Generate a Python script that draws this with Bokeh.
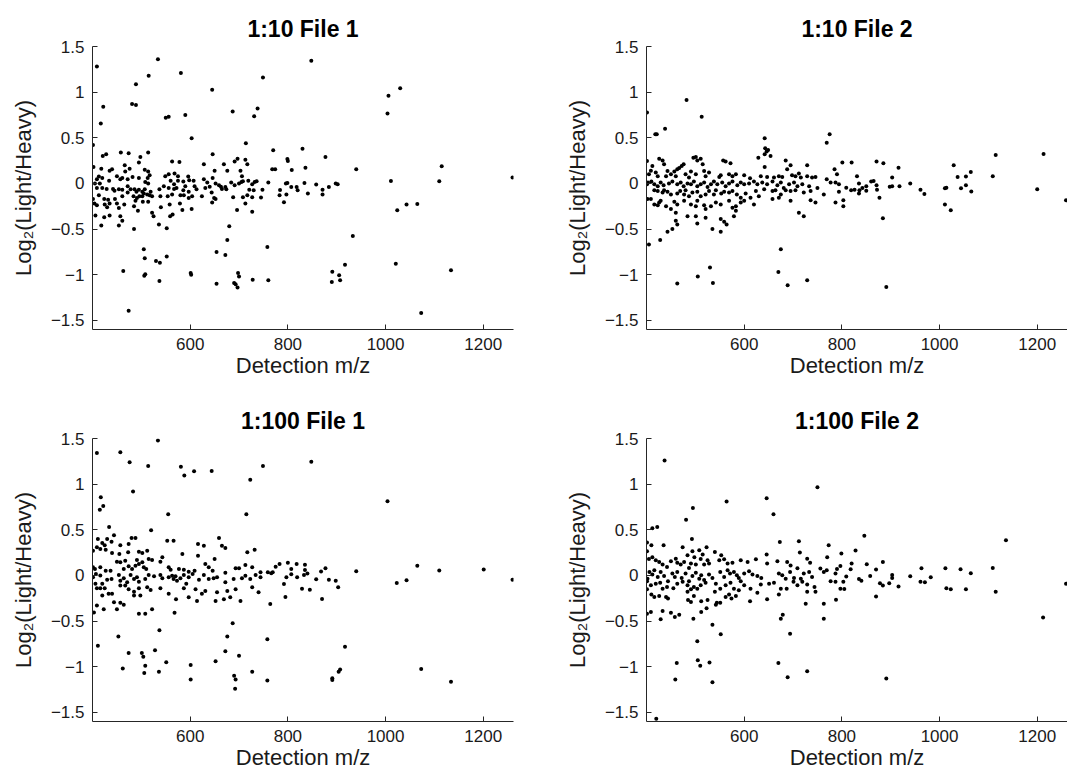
from bokeh.plotting import figure
from bokeh.layouts import column, row
from bokeh.models import Range1d, FixedTicker
from bokeh.embed import file_html
from bokeh.resources import INLINE

TITLES = ["1:10 File 1", "1:10 File 2", "1:100 File 1", "1:100 File 2"]
X_LABEL = "Detection m/z"
Y_LABEL = "Log\u2082(Light/Heavy)"
X_TICKS = [600, 800, 1000, 1200]
Y_TICKS = [-1.5, -1, -0.5, 0, 0.5, 1, 1.5]
Y_TICK_LABELS = ["\u22121.5", "\u22121", "\u22120.5", "0", "0.5", "1", "1.5"]
X_RANGE = (400, 1262)
Y_RANGE = (-1.6, 1.5)

# ---------------- 1:10 File 1 ----------------
P1 = [
(421,0.30),(428,0.32),(458,0.34),(474,0.33),(514,0.34),(498,0.29),(563,0.24),(646,0.32),(691,0.24),(697,0.27),
(713,0.26),(402,0.18),(418,0.16),(435,0.14),(440,0.155),(466,0.20),(476,0.16),(467,0.13),(495,0.23),(507,0.15),
(514,0.13),(556,0.10),(568,0.11),(575,0.08),(578,0.235),(628,0.21),(650,0.14),(669,0.21),(676,0.14),(703,0.14),
(717,0.21),(706,0.08),(409,0.045),(413,0.075),(420,0.06),(415,0.00),(434,0.03),(450,0.08),(457,0.045),(461,0.06),
(472,0.045),(482,0.07),(495,0.06),(513,0.06),(517,0.09),(549,0.08),(560,0.03),(567,-0.01),(575,0.03),(586,0.02),
(596,0.075),(598,0.035),(607,0.03),(609,-0.03),(628,0.045),(635,0.01),(646,0.06),(652,0.00),(659,-0.02),(663,-0.035),
(672,-0.04),(684,0.01),(691,-0.02),(700,0.00),(705,0.016),(708,0.024),(719,0.03),(727,-0.01),(732,0.016),(736,0.024),
(405,0.00),(409,-0.05),(420,-0.05),(429,-0.06),(442,-0.06),(445,-0.08),(454,-0.065),(461,-0.07),(472,-0.03),(478,-0.065),
(486,-0.065),(490,-0.09),(495,-0.07),(502,-0.09),(507,-0.065),(508,0.016),(514,0.00),(519,-0.09),(537,-0.065),(546,-0.03),
(556,-0.05),(567,-0.06),(572,-0.05),(586,-0.075),(590,-0.03),(597,-0.09),(613,-0.065),(631,-0.05),(640,-0.035),(644,-0.10),
(665,-0.06),(674,-0.065),(721,-0.07),(730,-0.075),(401,-0.17),(404,-0.22),(413,-0.13),(424,-0.17),(432,-0.18),(446,-0.17),
(461,-0.14),(472,-0.10),(484,-0.14),(488,-0.19),(491,-0.16),(496,-0.14),(502,-0.14),(505,-0.11),(512,-0.12),(517,-0.13),
(522,-0.14),(539,-0.14),(554,-0.14),(563,-0.12),(580,-0.13),(587,-0.13),(597,-0.16),(604,-0.14),(624,-0.14),(649,-0.16),
(688,-0.15),(708,-0.15),(717,-0.13),(727,-0.15),(409,-0.24),(425,-0.23),(430,-0.26),(435,-0.22),(450,-0.22),(454,-0.27),
(465,-0.23),(485,-0.25),(493,-0.30),(503,-0.20),(514,-0.20),(540,-0.26),(558,-0.23),(579,-0.22),(603,-0.28),(645,-0.21),
(652,-0.17),(696,-0.29),(713,-0.22),(727,-0.31),(406,-0.35),(424,-0.37),(435,-0.35),(457,-0.36),(461,-0.41),(454,-0.46),
(418,-0.46),(485,-0.50),(522,-0.32),(525,-0.36),(536,-0.45),(552,-0.49),(559,-0.36),(564,-0.34),(584,-0.29),(680,-0.47),
(676,-0.62),(401,0.42),(409,1.28),(417,0.656),(422,0.84),(489,1.087),(481,0.871),(489,0.86),(515,1.18),(534,1.36),
(581,1.21),(550,0.72),(556,0.73),(590,0.75),(603,0.495),(645,1.025),(687,0.787),(731,0.736),(738,0.82),(749,1.16),
(714,0.44),(463,-0.96),(474,-1.394),(505,-0.72),(507,-0.82),(506,-1.01),(508,-0.996),(530,-0.85),(538,-0.87),(537,-1.07),
(552,-0.80),(601,-0.98),(602,-1.00),(654,-1.10),(654,-0.75),(672,-0.785),(690,-1.09),(693,-1.105),(698,-0.98),(700,-1.02),
(697,-1.14),(728,-1.055),(848,1.343),(1006,0.96),(1030,1.043),(1004,0.765),(830,0.38),(770,0.363),(877,0.29),(799,0.268),
(800,0.246),(768,0.155),(774,0.155),(808,0.148),(836,0.173),(940,0.155),(1115,0.188),(1260,0.064),(1011,0.027),(1110,0.023),
(760,0.009),(796,0.0),(799,0.005),(834,0.005),(858,-0.013),(898,0.0),(902,-0.01),(884,-0.04),(807,-0.04),(818,-0.04),
(820,-0.075),(745,-0.155),(748,-0.07),(784,-0.072),(783,-0.13),(797,-0.12),(792,-0.207),(841,-0.11),(871,-0.07),(871,-0.12),
(1024,-0.295),(1043,-0.232),(1065,-0.225),(933,-0.576),(758,-0.697),(1021,-0.88),(1134,-0.95),(917,-0.89),(891,-0.967),
(905,-1.007),(890,-1.08),(907,-1.06),(760,-1.06),(1073,-1.42),
]

# ---------------- 1:10 File 2 ----------------
P2 = [
(401,0.246),(426,0.27),(433,0.25),(436,0.21),(412,0.19),(409,0.14),(467,0.17),(472,0.19),(476,0.21),(496,0.28),
(501,0.29),(504,0.25),(511,0.27),(515,0.21),(557,0.25),(562,0.24),(572,0.22),(629,0.28),(642,0.32),(646,0.35),
(654,0.30),(642,0.18),(685,0.25),(695,0.20),(729,0.20),(688,0.155),(785,0.155),(801,0.23),(405,0.10),(419,0.12),
(423,0.08),(440,0.08),(443,0.137),(450,0.10),(457,0.13),(460,0.08),(463,0.155),(480,0.10),(487,0.064),(491,0.13),
(501,0.10),(518,0.137),(521,0.08),(528,0.12),(549,0.07),(552,0.09),(569,0.10),(576,0.08),(583,0.10),(600,0.09),
(612,0.056),(634,0.08),(647,0.07),(661,0.064),(671,0.08),(678,0.07),(698,0.09),(705,0.08),(712,0.11),(716,0.064),
(729,0.08),(739,0.064),(746,0.07),(769,0.045),(787,0.01),(790,0.10),(401,-0.01),(403,0.01),(410,0.02),(416,-0.01),
(423,-0.03),(429,0.01),(435,-0.02),(446,0.00),(453,0.02),(463,-0.01),(470,0.01),(476,-0.03),(484,0.00),(491,-0.01),
(497,0.02),(504,-0.03),(511,-0.01),(518,0.01),(525,-0.04),(532,-0.01),(538,0.02),(545,-0.01),(555,0.01),(562,-0.03),
(569,0.00),(576,0.02),(586,-0.02),(593,0.01),(600,-0.01),(610,0.00),(620,0.02),(627,-0.01),(637,0.01),(647,-0.01),
(658,0.02),(668,-0.02),(675,0.01),(681,-0.05),(692,-0.01),(702,0.01),(709,-0.03),(719,-0.01),(733,-0.03),(750,-0.05),
(777,0.01),(794,-0.01),(402,-0.17),(409,-0.17),(416,-0.075),(423,-0.083),(433,-0.10),(436,-0.075),(443,-0.09),(450,-0.12),
(463,-0.11),(469,-0.083),(477,-0.12),(480,-0.075),(487,-0.14),(494,-0.10),(504,-0.09),(511,-0.14),(521,-0.12),(528,-0.083),
(538,-0.12),(542,-0.075),(553,-0.11),(559,-0.09),(569,-0.10),(576,-0.083),(585,-0.12),(593,-0.156),(603,-0.11),(613,-0.156),
(624,-0.083),(641,-0.064),(658,-0.083),(664,-0.075),(675,-0.12),(685,-0.075),(695,-0.083),(705,-0.075),(722,-0.10),(736,-0.083),
(763,-0.12),(794,-0.09),(803,-0.185),(416,-0.23),(426,-0.21),(429,-0.19),(423,-0.24),(440,-0.25),(457,-0.20),(450,-0.28),
(463,-0.23),(460,-0.32),(477,-0.19),(491,-0.23),(501,-0.25),(504,-0.19),(518,-0.24),(521,-0.28),(532,-0.25),(542,-0.21),
(552,-0.23),(569,-0.19),(576,-0.265),(583,-0.25),(593,-0.21),(600,-0.19),(620,-0.23),(630,-0.14),(658,-0.17),(671,-0.156),
(695,-0.19),(712,-0.32),(722,-0.36),(736,-0.185),(746,-0.21),(787,-0.21),(803,-0.25),(460,-0.41),(463,-0.45),(453,-0.50),
(443,-0.53),(484,-0.36),(504,-0.44),(501,-0.36),(521,-0.375),(535,-0.50),(552,-0.39),(559,-0.42),(564,-0.45),(552,-0.53),
(579,-0.36),(583,-0.30),(428,-0.62),(405,-0.67),(675,-0.72),(401,0.776),(482,0.915),(513,0.73),(418,0.54),(421,0.54),
(438,0.60),(463,-1.095),(505,-1.02),(530,-0.92),(536,-1.09),(642,0.495),(643,0.385),(649,0.367),(670,-0.97),(689,-1.115),
(769,0.447),(775,0.539),(729,-1.06),(891,-1.135),(884,-0.38),(820,0.228),(871,0.24),(885,0.22),(916,0.173),(831,0.08),
(903,0.064),(865,0.027),(860,0.02),(871,-0.02),(850,-0.03),(809,-0.046),(819,-0.075),(826,-0.07),(836,-0.075),(842,-0.05),
(835,-0.11),(835,0.0),(850,-0.08),(872,-0.07),(877,-0.156),(898,-0.035),(903,-0.03),(918,-0.03),(940,0.0),(961,-0.07),
(969,-0.115),(1011,-0.053),(1014,-0.046),(1011,-0.23),(1023,-0.295),(1029,0.20),(1037,0.07),(1044,-0.053),(1054,0.075),
(1054,-0.02),(1064,0.126),(1065,-0.087),(1109,0.08),(1115,0.312),(1200,-0.064),(1213,0.323),(1259,-0.185),
]

# ---------------- 1:100 File 1 ----------------
P3 = [
(411,0.40),(430,0.40),(439,0.37),(420,0.355),(425,0.33),(457,0.33),(474,0.345),(480,0.41),(488,0.41),(553,0.38),
(566,0.38),(616,0.345),(628,0.326),(659,0.41),(665,0.326),(672,0.30),(401,0.27),(409,0.31),(416,0.29),(427,0.28),
(440,0.245),(455,0.235),(473,0.253),(495,0.26),(502,0.245),(512,0.27),(515,0.18),(522,0.17),(543,0.20),(539,0.15),
(584,0.235),(616,0.217),(650,0.18),(717,0.253),(732,0.28),(401,0.09),(405,0.07),(450,0.15),(457,0.144),(467,0.16),
(491,0.17),(495,0.125),(488,0.107),(502,0.144),(505,0.09),(510,0.07),(474,0.10),(481,0.07),(464,0.07),(427,0.05),
(437,0.05),(416,0.09),(556,0.09),(560,0.063),(577,0.07),(587,0.063),(597,0.04),(609,0.05),(631,0.125),(638,0.09),
(646,0.05),(672,0.03),(693,0.078),(700,0.08),(713,0.115),(727,0.09),(744,0.034),(401,-0.02),(407,0.015),(416,0.00),
(406,-0.09),(420,-0.09),(430,-0.046),(439,-0.04),(454,0.005),(457,-0.057),(464,-0.03),(471,-0.076),(478,0.005),(485,-0.04),
(491,-0.02),(495,-0.07),(508,-0.04),(515,0.005),(526,-0.01),(539,0.005),(543,-0.03),(556,-0.02),(563,-0.003),(566,-0.04),
(570,-0.01),(573,-0.057),(580,-0.03),(587,0.005),(597,-0.02),(605,0.015),(618,-0.046),(628,0.005),(638,-0.04),(648,-0.03),
(655,-0.02),(672,-0.076),(689,-0.04),(706,-0.03),(713,-0.003),(723,-0.04),(734,0.005),(744,-0.02),(409,-0.14),(416,-0.14),
(425,-0.14),(433,-0.20),(440,-0.20),(420,-0.22),(457,-0.11),(467,-0.11),(474,-0.15),(485,-0.18),(485,-0.22),(498,-0.22),
(495,-0.14),(512,-0.13),(519,-0.16),(539,-0.14),(556,-0.20),(571,-0.26),(587,-0.14),(592,-0.09),(597,-0.24),(611,-0.15),
(624,-0.20),(631,-0.17),(655,-0.185),(669,-0.26),(676,-0.17),(682,-0.24),(693,-0.15),(703,-0.28),(727,-0.13),(740,-0.185),
(409,-0.33),(423,-0.37),(444,-0.295),(450,-0.37),(457,-0.30),(464,-0.32),(403,-0.405),(495,-0.42),(508,-0.42),(522,-0.37),
(568,-0.41),(614,-0.28),(652,-0.28),(687,-0.525),(537,-0.60),(409,1.34),(457,1.35),(476,1.24),(534,1.478),(514,1.20),
(581,1.19),(588,1.095),(608,1.14),(644,1.145),(723,1.047),(749,1.20),(483,0.92),(417,0.857),(422,0.76),(415,0.72),
(555,0.67),(715,0.67),(434,0.53),(520,0.495),(444,0.44),(411,-0.77),(453,-0.67),(474,-0.85),(462,-1.02),(501,-0.85),
(504,-0.89),(508,-0.99),(506,-1.07),(528,-0.82),(536,-1.055),(551,-0.95),(601,-0.98),(601,-1.14),(652,-0.94),(672,-0.83),
(676,-0.67),(690,-1.10),(693,-1.14),(692,-1.24),(700,-0.88),(727,-1.055),(758,-0.70),(758,-1.15),(848,1.244),(1004,0.813),
(759,0.034),(766,0.023),(769,0.034),(775,0.096),(783,0.126),(800,0.14),(807,0.07),(818,0.126),(819,-0.02),(835,0.118),
(835,0.06),(833,0.005),(840,0.02),(807,0.013),(797,-0.02),(792,-0.094),(795,-0.236),(764,-0.313),(829,-0.145),(845,-0.156),
(858,-0.042),(868,0.042),(877,0.078),(870,-0.258),(884,-0.046),(898,-0.057),(903,-0.13),(940,0.045),(1023,-0.083),
(1043,-0.053),(1065,0.107),(1110,0.053),(1201,0.064),(1260,-0.046),(917,-0.78),(891,-1.125),(891,-1.146),(904,-1.055),
(907,-1.03),(1073,-1.025),(1134,-1.165),
]

# ---------------- 1:100 File 2 ----------------
P4 = [
(401,0.36),(410,0.33),(435,0.33),(474,0.31),(493,0.40),(523,0.31),(673,0.367),(712,0.374),(773,0.33),(401,0.264),
(540,0.257),(553,0.22),(494,0.264),(508,0.275),(484,0.22),(498,0.20),(515,0.23),(714,0.25),(770,0.20),(799,0.24),
(646,0.23),(412,0.20),(405,0.18),(419,0.166),(426,0.148),(433,0.12),(442,0.093),(450,0.155),(460,0.184),(463,0.14),
(470,0.12),(477,0.148),(487,0.082),(491,0.13),(501,0.12),(511,0.18),(518,0.12),(525,0.166),(528,0.13),(549,0.166),
(559,0.177),(566,0.13),(576,0.14),(593,0.166),(607,0.148),(624,0.177),(647,0.13),(668,0.155),(688,0.148),(695,0.11),
(709,0.08),(729,0.184),(735,0.14),(756,0.075),(769,0.056),(790,0.07),(797,0.104),(402,-0.035),(406,0.038),(412,0.01),
(416,0.056),(423,-0.016),(429,0.038),(436,-0.005),(444,-0.064),(453,0.02),(458,-0.016),(463,0.038),(472,-0.028),(480,0.02),
(487,-0.064),(494,-0.005),(501,0.03),(508,-0.035),(512,0.002),(518,-0.05),(528,0.01),(535,-0.028),(551,0.038),(559,-0.016),
(566,0.056),(571,0.02),(579,0.038),(585,0.002),(589,-0.028),(600,0.02),(610,0.045),(617,0.01),(627,-0.005),(635,-0.028),
(671,0.02),(678,0.002),(685,-0.035),(694,0.038),(702,-0.028),(716,-0.035),(722,0.02),(733,0.038),(739,-0.016),(763,0.038),
(787,0.02),(803,-0.07),(401,-0.064),(401,-0.15),(409,-0.108),(419,-0.09),(428,-0.08),(433,-0.145),(442,-0.126),(455,-0.14),
(463,-0.09),(474,-0.07),(484,-0.108),(491,-0.15),(497,-0.126),(504,-0.145),(511,-0.108),(521,-0.08),(542,-0.09),(551,-0.145),
(562,-0.108),(572,-0.08),(579,-0.145),(593,-0.064),(600,-0.108),(613,-0.145),(634,-0.10),(651,-0.09),(661,-0.08),(675,-0.145),
(687,-0.145),(701,-0.07),(709,-0.108),(719,-0.07),(729,-0.10),(744,-0.126),(777,-0.064),(787,-0.07),(797,-0.145),(410,-0.21),
(416,-0.236),(426,-0.225),(440,-0.236),(444,-0.254),(484,-0.18),(485,-0.27),(491,-0.29),(497,-0.225),(512,-0.283),(525,-0.27),
(540,-0.18),(544,-0.30),(562,-0.236),(569,-0.21),(574,-0.254),(583,-0.225),(589,-0.163),(612,-0.283),(627,-0.19),(647,-0.26),
(671,-0.21),(729,-0.18),(726,-0.31),(746,-0.18),(788,-0.265),(763,-0.31),(401,-0.42),(409,-0.40),(433,-0.39),(450,-0.41),
(458,-0.455),(467,-0.43),(496,-0.474),(512,-0.40),(523,-0.36),(542,-0.32),(551,-0.30),(763,-0.474),(675,-0.474),(679,-0.43),
(535,-0.54),(552,-0.645),(694,-0.64),(429,-0.48),(437,1.26),(564,0.81),(646,0.845),(660,0.67),(495,0.74),(481,0.61),
(412,0.517),(422,0.53),(504,-0.72),(505,-0.93),(510,-0.99),(529,-0.955),(535,-1.17),(462,-0.96),(459,-1.14),(420,-1.57),
(670,-0.96),(689,-1.115),(750,0.966),(729,-1.05),(846,0.436),(1136,0.385),(828,0.272),(884,0.147),(851,0.122),(820,0.13),
(818,0.067),(870,0.064),(963,0.078),(1012,0.078),(1043,0.067),(1064,0.024),(1109,0.082),(903,0.005),(903,-0.028),(858,-0.006),
(809,-0.013),(835,-0.039),(840,-0.057),(940,-0.01),(982,-0.02),(961,-0.07),(970,-0.075),(878,-0.086),(884,-0.11),(897,-0.086),
(916,-0.12),(1014,-0.14),(1023,-0.15),(1054,-0.15),(1115,-0.18),(805,-0.148),(870,-0.23),(1212,-0.46),(1259,-0.09),(891,-1.13),
]

FONT = "Liberation Sans"


def make(title, pts, width, height, left, right, top, bottom):
    p = figure(width=width, height=height, output_backend="svg", toolbar_location=None,
               x_range=Range1d(*X_RANGE), y_range=Range1d(*Y_RANGE),
               min_border_left=left, min_border_right=right,
               min_border_top=top, min_border_bottom=bottom, title=title)
    xs = [a for a, b in pts]
    ys = [b for a, b in pts]
    p.scatter(xs, ys, size=4, color="black", line_color=None)
    p.outline_line_color = None
    p.grid.visible = False
    p.background_fill_color = "white"
    p.border_fill_color = "white"
    p.title.text = title
    p.title.align = "center"
    p.title.text_font = FONT
    p.title.text_font_size = "23px"
    p.title.text_font_style = "bold"
    p.title.text_color = "black"
    p.xaxis.ticker = FixedTicker(ticks=X_TICKS)
    p.yaxis.ticker = FixedTicker(ticks=Y_TICKS)
    p.yaxis.major_label_overrides = dict(zip(Y_TICKS, Y_TICK_LABELS))
    p.xaxis.axis_label = X_LABEL
    p.yaxis.axis_label = Y_LABEL
    for ax in (p.xaxis, p.yaxis):
        ax.axis_line_color = "#262626"
        ax.major_tick_line_color = "#262626"
        ax.major_tick_in = 5
        ax.major_tick_out = 0
        ax.minor_tick_line_color = None
        ax.major_label_text_font = FONT
        ax.major_label_text_font_size = "17px"
        ax.major_label_text_color = "#1a1a1a"
        ax.axis_label_text_font = FONT
        ax.axis_label_text_font_size = "22px"
        ax.axis_label_text_font_style = "normal"
        ax.axis_label_text_color = "#1a1a1a"
    p.xaxis.major_label_standoff = 8
    p.xaxis.axis_label_standoff = 0
    p.yaxis.major_label_standoff = 8
    p.yaxis.axis_label_standoff = 12
    return p


p1 = make(TITLES[0], P1, 534, 390, 92, 21, 46, 61)
p2 = make(TITLES[1], P2, 533, 390, 112, 0, 46, 61)
p3 = make(TITLES[2], P3, 534, 382, 92, 21, 48, 51)
p4 = make(TITLES[3], P4, 533, 382, 112, 0, 48, 51)

layout = column(row(p1, p2), row(p3, p4))
open("out.html", "w").write(file_html(layout, INLINE))
